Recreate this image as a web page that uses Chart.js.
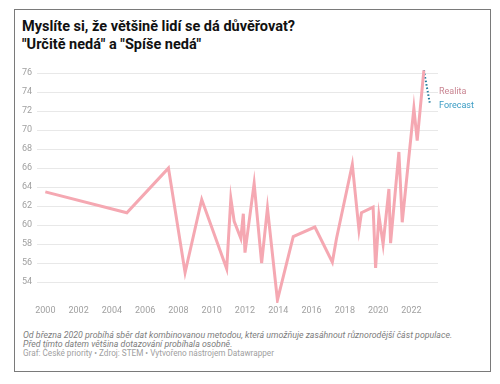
<!DOCTYPE html>
<html>
<head>
<meta charset="utf-8">
<script src="https://cdn.jsdelivr.net/npm/chart.js@4"></script>
<style>
    body { margin: 0; background: #fff; font-family: Roboto, "Noto Sans", sans-serif; }
    #card { position: absolute; left: 14px; top: 9px; width: 477px; height: 363px; border: 1.5px solid #7a7a7a; box-sizing: border-box; }
    #title { position: absolute; left: 22px; top: 18px; font-size: 14.5px; font-weight: bold; color: #111; line-height: 18px; }
    #chart-box { position: absolute; left: 14px; top: 58px; width: 476px; height: 265px; }
    #note { position: absolute; left: 23px; top: 331px; font-size: 8.8px; font-style: italic; color: #7d7d7d; line-height: 9.3px; }
    #credit { position: absolute; left: 23px; top: 348px; font-size: 8.2px; color: #a0a0a0; }
</style>
</head>
<body>
<div id="card"></div>
<div id="title">Myslíte si, že většině lidí se dá důvěřovat?<br>"Určitě nedá" a "Spíše nedá"</div>
<div id="chart-box"><canvas id="trust-chart"></canvas></div>
<div id="note">Od března 2020 probíhá sběr dat kombinovanou metodou, která umožňuje zasáhnout různorodější část populace.<br>Před tímto datem většina dotazování probíhala osobně.</div>
<div id="credit">Graf: České priority • Zdroj: STEM • Vytvořeno nástrojem Datawrapper</div>
<script>
const realYears = [2000.0, 2004.9, 2007.4, 2008.4, 2009.4, 2010.9, 2011.15, 2011.35, 2011.75, 2011.9, 2012.0,
    2012.55, 2013.0, 2013.35, 2013.95, 2014.9, 2016.2, 2017.25, 2017.5, 2018.45, 2018.85, 2019.0, 2019.7,
    2019.85, 2020.05, 2020.3, 2020.65, 2020.75, 2021.25, 2021.45, 2022.15, 2022.35, 2022.75];
const realValues = [63.5, 61.3, 66.0, 55.0, 62.7, 55.4, 62.8, 60.4, 58.6, 61.2, 57.1,
    64.4, 56.0, 61.8, 52.1, 58.8, 59.8, 56.1, 58.6, 66.4, 59.5, 61.3, 61.9,
    55.5, 61.0, 58.0, 63.8, 58.1, 67.7, 60.3, 72.3, 68.9, 76.3];
const forecastYears = [2022.75, 2023.1];
const forecastValues = [76.3, 72.9];
const xTicks = [2000, 2002, 2004, 2006, 2008, 2010, 2012, 2014, 2016, 2018, 2020, 2022];
const yTicks = [54, 56, 58, 60, 62, 64, 66, 68, 70, 72, 74, 76];
const seriesNames = ["Realita", "Forecast"];

function toPoints(xs, ys) {
    return xs.map((x, i) => ({ x: x, y: ys[i] }));
}

// end-of-line labels like datawrapper
const endLabels = {
    id: "endLabels",
    afterDatasetsDraw(chart) {
        const ctx = chart.ctx;
        const meta = chart.getDatasetMeta(1);
        const last = meta.data[meta.data.length - 1];
        const x = chart.chartArea.right + 1;
        ctx.save();
        ctx.font = "9px Roboto";
        ctx.textBaseline = "middle";
        ctx.fillStyle = "#c98592";
        ctx.fillText(seriesNames[0], x, last.y - 11);
        ctx.fillStyle = "#3a9cc4";
        ctx.fillText(seriesNames[1], x, last.y + 3);
        ctx.restore();
    }
};

const ctx = document.getElementById("trust-chart").getContext("2d");
new Chart(ctx, {
    type: "line",
    data: {
        datasets: [
            {
                label: seriesNames[0],
                data: toPoints(realYears, realValues),
                borderColor: "#f5a8b2",
                borderWidth: 3,
                pointRadius: 0,
                tension: 0,
                borderJoinStyle: "miter",
            },
            {
                label: seriesNames[1],
                data: toPoints(forecastYears, forecastValues),
                borderColor: "#1f7a9c",
                borderWidth: 2,
                borderDash: [1.5, 2],
                pointRadius: 0,
                tension: 0,
            },
        ],
    },
    options: {
        animation: false,
        responsive: true,
        maintainAspectRatio: false,
        layout: { padding: { top: 9.5, right: 52, left: 0, bottom: 0 } },
        plugins: { legend: { display: false }, tooltip: { enabled: false } },
        scales: {
            x: {
                type: "linear",
                min: 1999.5,
                max: 2023.6,
                afterBuildTicks: (scale) => { scale.ticks = xTicks.map(v => ({ value: v })); },
                afterFit: (scale) => { scale.height = 20; },
                grid: { display: false, drawTicks: false },
                border: { display: false },
                ticks: { color: "#a0a0a0", font: { size: 9, family: "Roboto" }, padding: 2, maxRotation: 0,
                    callback: (v) => String(v) },
            },
            y: {
                min: 51.8,
                max: 76.5,
                afterBuildTicks: (scale) => { scale.ticks = yTicks.map(v => ({ value: v })); },
                afterFit: (scale) => { scale.width = 23; },
                grid: { color: "#e8e8e8", drawTicks: false },
                border: { display: false },
                ticks: { color: "#a0a0a0", font: { size: 9, family: "Roboto" }, padding: 5 },
            },
        },
    },
    plugins: [endLabels],
});
</script>
</body>
</html>
